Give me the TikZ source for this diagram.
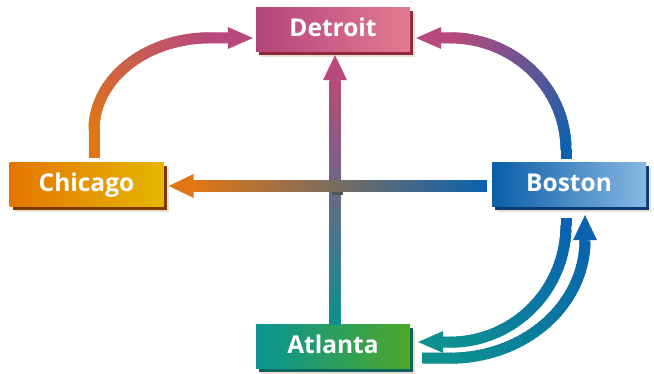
\documentclass[tikz,border=0pt]{standalone}
\usepackage{fontspec}
\setsansfont{Open Sans}
\usetikzlibrary{calc,positioning,shadows}

\definecolor{detroitL}{HTML}{B4457A}
\definecolor{detroitR}{HTML}{E27A92}
\definecolor{detroitD}{HTML}{8C2A3C}
\definecolor{chicagoL}{HTML}{E27600}
\definecolor{chicagoR}{HTML}{E6B600}
\definecolor{chicagoD}{HTML}{7C3A00}
\definecolor{bostonL}{HTML}{0A5EA8}
\definecolor{bostonR}{HTML}{88B8E2}
\definecolor{bostonD}{HTML}{0A3C74}
\definecolor{atlantaL}{HTML}{0A9494}
\definecolor{atlantaR}{HTML}{4CA82A}
\definecolor{atlantaD}{HTML}{0A6460}
\definecolor{arrOrange}{HTML}{E07616}
\definecolor{arrPink}{HTML}{B8497C}
\definecolor{arrBlue}{HTML}{0A62B0}
\definecolor{arrTeal}{HTML}{0C9090}
\definecolor{arrShadow}{HTML}{E8DFD2}
\definecolor{crossShadow}{HTML}{4A5858}

\tikzset{
  city/.style={
      rectangle,
      inner sep=0pt,
      minimum width=154pt,
      minimum height=44pt,
      text height=18pt,
      text depth=5pt,
      text=white,
      font=\sffamily\bfseries\fontsize{24.5}{30}\selectfont
  },
  cityshadow/.style={
      general shadow={fill=arrShadow, shadow xshift=5pt, shadow yshift=-5pt},
      general shadow={fill=#1, shadow xshift=3pt, shadow yshift=-3pt}
  },
  shaft/.style={line width=11pt},
  ghost/.style={line width=11pt, draw=arrShadow}
}

% thick arc drawn in short pieces, colour running from #6 to #7
\newcommand{\gradarc}[7]{%
  \foreach \k in {0,...,39}{
    \pgfmathsetmacro\angA{#4+(#5-#4)*\k/40}
    \pgfmathsetmacro\angB{#4+(#5-#4)*min(\k+1.5,40)/40}
    \pgfmathsetmacro\mix{100*\k/39}
    \draw[shaft,#7!\mix!#6] ($(#1)+(\angA:#2 and #3)$)
      arc[start angle=\angA,end angle=\angB,x radius=#2,y radius=#3];
  }
}

\begin{document}
\begin{tikzpicture}[x=1pt,y=1pt]
    \useasboundingbox (0,0) rectangle (654,374);

    % cities
    \node[city,cityshadow=detroitD,left color=detroitL,right color=detroitR] (detroit) at (333,344) {Detroit};
    \node[city,cityshadow=chicagoD,left color=chicagoL,right color=chicagoR] (chicago) at (86.5,189) {Chicago};
    \node[city,cityshadow=bostonD,left color=bostonL,right color=bostonR] (boston) at (569,189) {Boston};
    \node[city,cityshadow=atlantaD,left color=atlantaL,right color=atlantaR] (atlanta) at (333,27) {Atlanta};

    % key points of the connectors
    \coordinate (cA) at ($(chicago.north)+(123.5,33)$);
    \coordinate (cB) at ($(boston.north)+(-119,13)$);
    \coordinate (cE) at ($(boston.south)+(-119,-18)$);
    \coordinate (cF) at ($(boston.south)+(-119,-33)$);
    \coordinate (tipA) at ($(detroit.west)+(-3,-8)$);
    \coordinate (tipB) at ($(detroit.east)+(6,-8)$);
    \coordinate (tipC) at ($(detroit.south)+(2,-3)$);
    \coordinate (tipE) at ($(atlanta.east)+(8,5)$);
    \coordinate (tipF) at ($(boston.south)+(16,-8)$);

    % shadows of the connectors
    \begin{scope}[shift={(2,-2)}]
      \draw[ghost] ($(chicago.north)+(7.5,5)$) -- ($(cA)+(-116,0)$)
        arc[start angle=180,end angle=90,x radius=116,y radius=92] -- ($(tipA)+(-25,0)$);
      \fill[arrShadow] ($(tipA)+(-25,11)$) -- (tipA) -- ($(tipA)+(-25,-11)$) -- cycle;
      \draw[ghost] ($(boston.north)+(-3,4)$) -- ($(cB)+(116,0)$)
        arc[start angle=0,end angle=90,x radius=116,y radius=112] -- ($(tipB)+(25,0)$);
      \fill[arrShadow] ($(tipB)+(25,11)$) -- (tipB) -- ($(tipB)+(25,-11)$) -- cycle;
      \draw[ghost] (atlanta.north -| tipC) -- ($(tipC)+(0,-25)$);
      \fill[arrShadow] ($(tipC)+(-12,-25)$) -- (tipC) -- ($(tipC)+(12,-25)$) -- cycle;
      \draw[ghost] ($(boston.south)+(-3,-11)$) -- ($(cE)+(116,0)$)
        arc[start angle=0,end angle=-90,x radius=116,y radius=117] -- ($(tipE)+(25,0)$);
      \fill[arrShadow] ($(tipE)+(25,11)$) -- (tipE) -- ($(tipE)+(25,-11)$) -- cycle;
      \draw[ghost] ($(atlanta.east)+(12,-11)$) -- ($(cF)+(0,-118)$)
        arc[start angle=-90,end angle=0,x radius=135,y radius=118];
      \fill[arrShadow] ($(tipF)+(-12,-25)$) -- (tipF) -- ($(tipF)+(12,-25)$) -- cycle;
    \end{scope}

    % Atlanta to Detroit
    \shade[bottom color=arrTeal,top color=arrPink]
      ($(atlanta.north -| tipC)+(-5.5,0)$) rectangle ($(tipC)+(5.5,-25)$);
    \fill[arrPink] ($(tipC)+(-12,-25)$) -- (tipC) -- ($(tipC)+(12,-25)$) -- cycle;

    % Boston to Chicago
    \fill[arrShadow] ($(chicago.east)+(32,-8)$) rectangle ($(boston.west)+(-3,-8)$);
    \fill[crossShadow] ($(chicago.east -| tipC)+(-3.5,-6.5)$) rectangle ($(chicago.east -| tipC)+(7.5,-10.5)$);
    \shade[left color=arrOrange,right color=arrBlue]
      ($(chicago.east)+(30,-6.5)$) rectangle ($(boston.west)+(-5,4.5)$);
    \fill[arrOrange] ($(chicago.east)+(30,11)$) -- ($(chicago.east)+(5,-1)$) -- ($(chicago.east)+(30,-13)$) -- cycle;

    % Chicago to Detroit
    \draw[shaft,arrOrange] ($(chicago.north)+(7.5,5)$) -- ($(cA)+(-116,0.5)$);
    \gradarc{cA}{116}{92}{180}{90}{arrOrange}{arrPink}
    \draw[shaft,arrPink] ($(cA)+(-0.5,92)$) -- ($(tipA)+(-24,0)$);
    \fill[arrPink] ($(tipA)+(-25,11)$) -- (tipA) -- ($(tipA)+(-25,-11)$) -- cycle;

    % Boston to Detroit
    \draw[shaft,arrBlue] ($(boston.north)+(-3,4)$) -- ($(cB)+(116,0.5)$);
    \gradarc{cB}{116}{112}{0}{90}{arrBlue}{arrPink}
    \draw[shaft,arrPink] ($(cB)+(0.5,112)$) -- ($(tipB)+(24,0)$);
    \fill[arrPink] ($(tipB)+(25,11)$) -- (tipB) -- ($(tipB)+(25,-11)$) -- cycle;

    % Boston to Atlanta
    \draw[shaft,arrBlue] ($(boston.south)+(-3,-11)$) -- ($(cE)+(116,-0.5)$);
    \gradarc{cE}{116}{117}{0}{-90}{arrBlue}{arrTeal}
    \draw[shaft,arrTeal] ($(cE)+(0.5,-117)$) -- ($(tipE)+(24,0)$);
    \fill[arrTeal] ($(tipE)+(25,11)$) -- (tipE) -- ($(tipE)+(25,-11)$) -- cycle;

    % Atlanta to Boston
    \draw[shaft,arrTeal] ($(atlanta.east)+(12,-11)$) -- ($(cF)+(0.5,-118)$);
    \gradarc{cF}{135}{118}{-90}{0}{arrTeal}{arrBlue}
    \fill[arrBlue] ($(tipF)+(-12,-25)$) -- (tipF) -- ($(tipF)+(12,-25)$) -- cycle;
\end{tikzpicture}
\end{document}
